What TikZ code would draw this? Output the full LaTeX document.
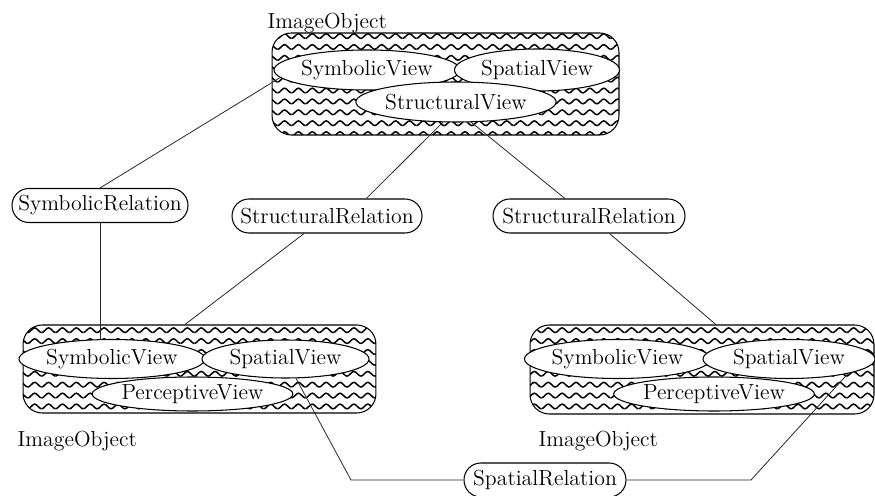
\documentclass[tikz,border=0pt]{standalone}
\usepackage{tikz}
\usetikzlibrary{shapes, patterns, positioning, calc}

\pgfdeclarepatternformonly{waves}{\pgfpoint{0pt}{-1pt}}{\pgfpoint{7.9pt}{3.6pt}}{\pgfpoint{7.9pt}{6.2pt}}{%
  \pgfsetlinewidth{0.85pt}
  \pgfpathmoveto{\pgfpoint{0pt}{0pt}}
  \pgfpathcurveto{\pgfpoint{1.3pt}{0pt}}{\pgfpoint{2.65pt}{2.7pt}}{\pgfpoint{3.95pt}{2.7pt}}
  \pgfpathcurveto{\pgfpoint{5.25pt}{2.7pt}}{\pgfpoint{6.6pt}{0pt}}{\pgfpoint{7.9pt}{0pt}}
  \pgfusepath{stroke}}

\tikzstyle{container} = [draw, rectangle, rounded corners=11pt, pattern=waves, line width=0.6pt]
\tikzstyle{view} = [draw, ellipse, fill=white, inner sep=0pt, line width=0.6pt]
\tikzstyle{relation} = [draw, rectangle, rounded corners=9.6pt, fill=white, inner sep=0pt, minimum height=0.68cm, line width=0.6pt]
\tikzstyle{link} = [draw, black!85, line width=0.45pt]

\begin{document}
\begin{tikzpicture}[x=0.02cm, y=-0.02cm, every node/.style={font=\fontsize{12.4}{15}\selectfont}]
    \useasboundingbox (0,0) rectangle (875,496);

    % Top Image Object
    \node (tbox) [container, minimum width=6.94cm, minimum height=2.04cm] at (445.5,84) {};
    \node (tname) [anchor=base west] at ($(tbox.north west)+(-10,-4)$) {ImageObject};
    \node (tsym) [view, minimum width=3.38cm, minimum height=0.8cm] at (367,70) {SymbolicView};
    \node (tspat) [view, minimum width=3.3cm, minimum height=0.84cm] at (537,70) {SpatialView};
    \node (tstruct) [view, minimum width=3.38cm, minimum height=0.8cm] at (456,102) {StructuralView};

    % Left Image Object
    \node (lbox) [container, minimum width=7.06cm, minimum height=1.76cm] at (199.5,369) {};
    \node (lname) [anchor=base west] at ($(lbox.south west)+(-11,33)$) {ImageObject};
    \node (lsym) [view, minimum width=3.38cm, minimum height=0.78cm] at (112,359) {SymbolicView};
    \node (lspat) [view, minimum width=3.34cm, minimum height=0.76cm] at (285.5,359) {SpatialView};
    \node (lperc) [view, minimum width=3.58cm, minimum height=0.68cm] at (192.5,394) {PerceptiveView};

    % Right Image Object
    \node (rbox) [container, minimum width=6.88cm, minimum height=1.78cm] at (702,369.5) {};
    \node (rname) [anchor=base west] at ($(rbox.south west)+(3,32)$) {ImageObject};
    \node (rsym) [view, minimum width=3.38cm, minimum height=0.78cm] at (617.5,359) {SymbolicView};
    \node (rspat) [view, minimum width=3.44cm, minimum height=0.78cm] at (789,359) {SpatialView};
    \node (rperc) [view, minimum width=3.64cm, minimum height=0.68cm] at (714,394) {PerceptiveView};

    % Relations
    \node (symrel) [relation, minimum width=3.52cm] at (100,205.5) {SymbolicRelation};
    \node (lstrrel) [relation, minimum width=3.8cm] at (327,216) {StructuralRelation};
    \node (rstrrel) [relation, minimum width=3.84cm] at (589,216) {StructuralRelation};
    \node (sprel) [relation, minimum width=3.24cm] at (545,480) {SpatialRelation};

    \coordinate (lbend) at (351,480);
    \coordinate (rbend) at (751,480);

    % Symbolic Path
    \draw [link] (tsym.185) -- (symrel.north);
    \draw [link] (symrel.south) -- (symrel.south |- lsym.north);

    % Structural Paths
    \draw [link] (tstruct.-123) -- (lstrrel.24);
    \draw [link] (lstrrel) -- (lbox.108);
    \draw [link] (tstruct.-53) -- (rstrrel.144);
    \draw [link] (rstrrel) -- (rbox.73);

    % Spatial Path
    \draw [link] (lspat) -- (lbend) -- (sprel);
    \draw [link] (sprel) -- (rbend) -- (rspat.-14);
\end{tikzpicture}
\end{document}
